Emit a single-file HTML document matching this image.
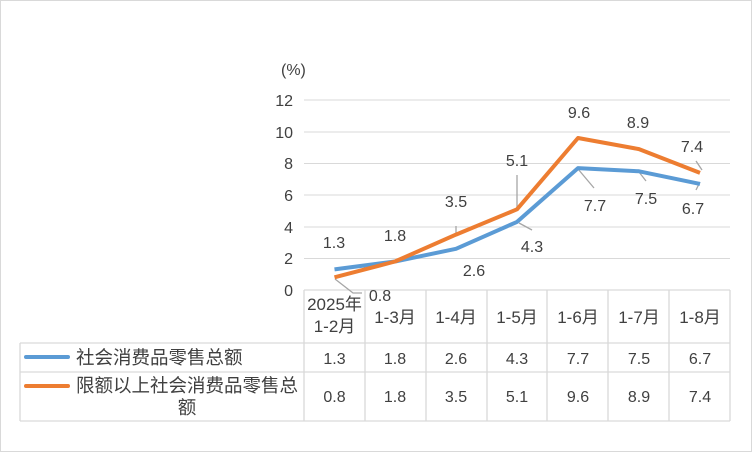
<!DOCTYPE html>
<html><head><meta charset="utf-8"><style>
body{margin:0;background:#fff}
svg text{font-family:"Liberation Sans","Noto Sans CJK SC",sans-serif;fill:#404040}
</style></head><body>
<svg width="752" height="452" xmlns="http://www.w3.org/2000/svg">
<rect x="0.5" y="0.5" width="751" height="451" fill="#fff" stroke="#d9d9d9"/>
<g stroke="#d9d9d9" stroke-width="1">
<line x1="304" y1="100" x2="730" y2="100"/>
<line x1="304" y1="132" x2="730" y2="132"/>
<line x1="304" y1="163.5" x2="730" y2="163.5"/>
<line x1="304" y1="195" x2="730" y2="195"/>
<line x1="304" y1="227" x2="730" y2="227"/>
<line x1="304" y1="258.5" x2="730" y2="258.5"/>
</g>
<g font-size="16" text-anchor="end">
<text x="293" y="106">12</text><text x="293" y="138">10</text><text x="293" y="169">8</text>
<text x="293" y="201">6</text><text x="293" y="233">4</text><text x="293" y="264">2</text><text x="293" y="296">0</text>
</g>
<text x="281" y="75" font-size="16">(%)</text>
<g stroke="#d9d9d9" stroke-width="1.3" fill="none">
<line x1="304" y1="290" x2="730" y2="290"/>
<line x1="20" y1="343" x2="730" y2="343"/>
<line x1="20" y1="372" x2="730" y2="372"/>
<line x1="20" y1="421" x2="730" y2="421"/>
<line x1="20" y1="343" x2="20" y2="421"/>
<line x1="304" y1="290" x2="304" y2="421"/><line x1="365" y1="290" x2="365" y2="421"/>
<line x1="426" y1="290" x2="426" y2="421"/><line x1="487" y1="290" x2="487" y2="421"/>
<line x1="547" y1="290" x2="547" y2="421"/><line x1="608" y1="290" x2="608" y2="421"/>
<line x1="669" y1="290" x2="669" y2="421"/><line x1="730" y1="290" x2="730" y2="421"/>
</g>
<g font-size="17" text-anchor="middle">
<text x="334.5" y="310">2025年</text><text x="334.5" y="332">1-2月</text>
<text x="395" y="323">1-3月</text><text x="456" y="323">1-4月</text><text x="517" y="323">1-5月</text>
<text x="578" y="323">1-6月</text><text x="639" y="323">1-7月</text><text x="700" y="323">1-8月</text>
</g>
<g font-size="16" text-anchor="middle">
<text x="334.5" y="364">1.3</text><text x="395" y="364">1.8</text><text x="456" y="364">2.6</text><text x="517" y="364">4.3</text><text x="578" y="364">7.7</text><text x="639" y="364">7.5</text><text x="700" y="364">6.7</text>
<text x="334.5" y="402">0.8</text><text x="395" y="402">1.8</text><text x="456" y="402">3.5</text><text x="517" y="402">5.1</text><text x="578" y="402">9.6</text><text x="639" y="402">8.9</text><text x="700" y="402">7.4</text>
</g>
<line x1="26" y1="357" x2="68" y2="357" stroke="#5b9bd5" stroke-width="4" stroke-linecap="round"/>
<line x1="26" y1="386" x2="68" y2="386" stroke="#ed7d31" stroke-width="4" stroke-linecap="round"/>
<g font-size="18.5"><text x="76" y="364">社会消费品零售总额</text><text x="76" y="392">限额以上社会消费品零售总</text><text x="187" y="414" text-anchor="middle">额</text></g>
<g stroke="#a6a6a6" stroke-width="1.3" fill="none">
<polyline points="335,279 353,293 362,293"/>
<line x1="456" y1="234" x2="456" y2="226"/>
<line x1="517" y1="208" x2="517" y2="175"/>
<line x1="519" y1="223" x2="532" y2="230"/>
<line x1="578" y1="169" x2="594" y2="188"/>
<line x1="639" y1="172" x2="646" y2="181"/>
<line x1="700" y1="182" x2="696" y2="190"/>
<line x1="702" y1="170" x2="696" y2="161"/>
</g>
<polyline fill="none" stroke="#5b9bd5" stroke-width="4" stroke-linejoin="round" points="334.5,269.4 395,261.5 456,248.8 517,221.9 578,168.1 639,171.3 700,183.9"/>
<polyline fill="none" stroke="#ed7d31" stroke-width="4" stroke-linejoin="round" points="334.5,277.3 395,261.5 456,234.6 517,209.3 578,138 639,149.1 700,172.9"/>
<g font-size="16" text-anchor="middle">
<text x="334" y="248">1.3</text><text x="395" y="241">1.8</text><text x="474" y="276">2.6</text>
<text x="532" y="252">4.3</text><text x="595" y="211">7.7</text><text x="646" y="204">7.5</text>
<text x="693" y="214">6.7</text>
<text x="380" y="301">0.8</text><text x="456" y="207">3.5</text><text x="517" y="166">5.1</text>
<text x="579" y="118">9.6</text><text x="638" y="128">8.9</text><text x="692" y="152">7.4</text>
</g>
</svg>
</body></html>
